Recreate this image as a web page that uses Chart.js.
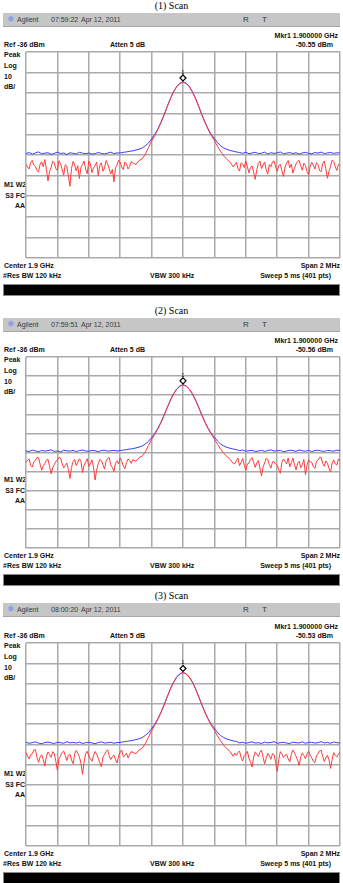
<!DOCTYPE html>
<html>
<head>
<meta charset="utf-8">
<script src="https://cdn.jsdelivr.net/npm/chart.js@4.4.1/dist/chart.umd.min.js"></script>
<style>
  body { margin: 0; background: #fff; width: 343px; height: 883px; overflow: hidden; position: relative;
         font-family: "Liberation Sans", Arial, sans-serif; }
  .t { position: absolute; white-space: nowrap; line-height: 10px; height: 10px; font-size: 7px;
       font-weight: bold; color: #111; }
  .title { position: absolute; left: 0; width: 343px; text-align: center; line-height: 12px;
           font: 10px "Liberation Serif", "Times New Roman", serif; color: #000; }
  .hdr { position: absolute; left: 3px; width: 337px; height: 13px; background: #c6c6c6;
         border-bottom: 1px solid #a6a6a6; }
  .hdr span { position: absolute; top: 0; line-height: 13px; font-size: 7px; color: #3a3a3a; }
  .bar { position: absolute; left: 3px; width: 335px; background: #000; border: 1px solid #8a8a8a; }
  .plot { position: absolute; left: 25px; width: 316px; }
</style>
</head>
<body>
<script>
// sweep has 401 pts (index 0..400); sample positions used below
function steps(a, b, s) { const out = []; for (let v = a; v <= b; v += s) out.push(v); return out; }
const blueIdx = steps(0, 400, 4);
const redIdx = [...steps(0, 134, 2), ...steps(136, 264, 4), ...steps(266, 400, 2)];

const freqTicks = [0, 40, 80, 120, 160, 200, 240, 280, 320, 360, 400];
const levelTicks = [-136, -126, -116, -106, -96, -86, -76, -66, -56, -46, -36];

const scanTitles = ['(1) Scan', '(2) Scan', '(3) Scan'];
const scanTimes = ['07:59:22', '07:59:51', '08:00:20'];
const markerLevels = [-50.55, -50.56, -50.53];

// peak region, idx 120..268 step 4 (blue) and 136..264 step 4 (red)
const bluePeak = [-85.0, -84.7, -84.5, -84.2, -84.0, -83.6, -83.2, -82.6, -81.5, -80.2,
  -78.2, -76.0, -73.3, -70.0, -66.3, -62.3, -58.5, -55.2, -52.7, -51.1,
  -50.5, -51.1, -52.7, -55.2, -58.5, -62.3, -66.3, -70.0, -73.3, -76.0,
  -78.0, -80.0, -81.6, -82.6, -83.3, -83.8, -84.2, -84.5];
const redPeak = [-89.8, -90.6, -88.7, -87.9, -85.6, -82.4, -79.2, -76.6,
  -73.6, -70.3, -66.6, -62.5, -58.7, -55.4, -52.9, -51.3, -50.6, -51.3, -52.9, -55.4, -58.7, -62.5, -66.6, -70.3, -73.6,
  -76.5, -79.0, -81.8, -84.3, -86.5, -88.1, -89.5, -91.8];

// scan 1
const blueLeft1 = [-85.3, -84.8, -85.6, -85.0, -84.5, -85.4, -85.1, -84.9, -85.7, -85.2, -84.6, -85.3, -85.0, -85.8, -84.9,
  -85.2, -85.5, -84.7, -85.1, -85.4, -85.0, -85.6, -85.3, -84.8, -85.2, -85.5, -85.1, -84.6, -85.3, -85.0];
const blueRight1 = [-84.8, -85.2, -84.6, -85.4, -85.0, -84.7, -85.3, -85.1, -84.6, -85.5, -84.9, -85.2, -85.0, -84.5, -85.4,
  -85.1, -84.8, -85.3, -84.9, -85.6, -85.0, -84.7, -85.2, -85.4, -84.8, -85.1, -84.6, -85.3, -85.0, -84.8, -85.2, -84.9, -85.1];
const redLeft1 = [-90.5, -91.8, -92.8, -89.7, -88.6, -90.9, -91.5, -93.6, -94.2, -90.4, -89.3, -91.7, -88.2, -93.0, -98.6,
  -94.1, -92.1, -89.0, -89.7, -92.6, -93.5, -88.8, -90.2, -92.9, -95.8, -90.7, -91.4, -96.3, -101.2, -92.5,
  -89.1, -90.8, -93.7, -91.2, -97.4, -92.0, -90.6, -88.9, -92.9, -95.1, -88.9, -90.3, -94.6, -92.2, -91.2,
  -89.4, -96.1, -91.0, -89.8, -93.9, -92.4, -88.7, -90.3, -92.7, -95.2, -93.0, -99.1, -92.3, -90.8, -88.5,
  -89.6, -91.9, -93.1, -89.4, -90.2, -92.8, -91.5, -89.2];
const redRight1 = [-90.7, -89.6, -92.4, -93.8, -89.8, -90.4, -92.1, -88.9, -91.6, -94.7, -92.0, -91.3, -94.4, -97.8, -93.2,
  -90.1, -89.0, -92.6, -90.9, -89.4, -93.1, -95.3, -90.6, -91.7, -89.3, -88.8, -91.9, -93.9, -91.1, -90.5,
  -93.7, -96.4, -91.8, -89.9, -88.7, -92.2, -90.4, -94.8, -92.5, -90.3, -89.1, -88.6, -91.3, -93.4, -90.0,
  -91.1, -94.0, -95.7, -91.4, -89.5, -90.9, -92.8, -89.7, -90.7, -93.6, -94.1, -90.2, -88.9, -92.7, -97.3,
  -93.9, -91.6, -88.4, -89.2, -91.8, -93.5, -90.6, -90.8];

// scan 2
const blueLeft2 = [-85.1, -85.5, -84.7, -85.2, -85.6, -84.9, -85.3, -85.0, -84.6, -85.4, -85.2, -85.7, -84.8, -85.1, -85.3,
  -84.9, -85.5, -85.0, -84.7, -85.2, -85.4, -84.9, -85.1, -85.6, -85.0, -84.8, -85.3, -85.1, -84.9, -85.2];
const blueRight2 = [-85.0, -84.7, -85.3, -85.1, -84.8, -85.5, -85.2, -84.9, -85.4, -85.0, -84.6, -85.3, -85.1, -84.9, -85.6,
  -85.2, -84.8, -85.0, -85.4, -84.7, -85.1, -85.3, -84.9, -85.5, -85.0, -84.8, -85.2, -85.4, -84.9, -85.1, -85.3, -84.8, -85.0];
const redLeft2 = [-91.2, -90.1, -89.4, -92.7, -93.6, -90.8, -90.1, -88.6, -88.7, -92.2, -95.3, -93.0, -91.8, -89.9, -89.5,
  -93.4, -97.2, -94.0, -92.4, -90.6, -90.0, -88.5, -88.9, -91.7, -94.1, -92.9, -91.5, -95.0, -99.6, -93.8,
  -90.7, -89.6, -92.8, -91.1, -89.3, -90.5, -96.5, -92.6, -91.0, -89.2, -93.3, -91.9, -89.8, -93.7, -100.4,
  -95.2, -91.9, -89.7, -90.2, -92.3, -94.7, -90.5, -89.1, -88.6, -92.5, -93.9, -95.9, -91.6, -90.4, -92.0,
  -88.8, -90.7, -93.0, -94.5, -91.3, -89.4, -90.1, -91.7];
const redRight2 = [-91.9, -90.3, -88.9, -92.9, -91.2, -89.1, -92.6, -95.4, -92.0, -91.6, -89.5, -88.7, -91.3, -93.8, -91.5,
  -90.2, -94.1, -98.3, -93.6, -91.4, -89.0, -89.6, -92.4, -94.2, -90.9, -90.8, -92.1, -92.7, -95.0, -96.9,
  -91.2, -89.4, -90.6, -91.9, -88.8, -93.5, -91.4, -88.9, -92.3, -95.1, -91.7, -90.6, -93.9, -92.3, -89.6,
  -97.6, -92.8, -89.8, -91.0, -91.1, -93.4, -94.4, -90.7, -90.0, -88.5, -88.6, -91.8, -93.2, -90.4, -91.7,
  -94.3, -96.2, -91.5, -89.9, -92.0, -92.6, -89.3, -90.4];

// scan 3
const blueLeft3 = [-84.9, -85.4, -85.1, -84.7, -85.3, -85.6, -85.0, -84.8, -85.2, -85.5, -84.9, -85.1, -85.4, -84.6, -85.2,
  -85.0, -85.3, -84.8, -85.5, -85.1, -84.9, -85.2, -85.6, -85.0, -84.7, -85.3, -85.1, -84.9, -85.4, -85.0];
const blueRight3 = [-85.2, -84.9, -85.4, -85.0, -84.7, -85.3, -85.1, -85.5, -84.8, -85.2, -85.0, -84.6, -85.4, -85.1, -84.9,
  -85.3, -85.5, -84.8, -85.1, -85.2, -84.7, -85.4, -85.0, -84.9, -85.3, -85.1, -84.6, -85.2, -85.0, -85.4, -84.8, -85.1, -85.3];
const redLeft3 = [-89.9, -91.7, -93.1, -91.0, -90.6, -88.7, -88.5, -92.4, -94.8, -92.1, -91.1, -93.5, -96.7, -91.8, -89.7,
  -90.9, -92.3, -89.5, -90.4, -94.2, -98.8, -93.0, -91.6, -89.9, -89.2, -91.4, -93.9, -91.2, -90.8, -93.6,
  -95.5, -90.7, -88.9, -90.3, -92.0, -95.3, -100.7, -94.6, -90.5, -89.3, -91.8, -93.0, -94.3, -91.5, -89.4,
  -90.8, -92.7, -94.9, -97.0, -92.4, -90.9, -89.6, -88.6, -91.5, -93.4, -92.0, -91.2, -93.3, -95.1, -91.6,
  -89.8, -88.7, -92.1, -91.4, -90.3, -92.6, -91.0, -89.5];
const redRight3 = [-90.2, -91.4, -90.0, -89.2, -92.5, -94.1, -91.3, -90.7, -89.4, -92.8, -94.7, -97.1, -92.2, -89.6, -90.8,
  -91.9, -89.9, -88.8, -92.3, -95.6, -92.7, -90.4, -91.6, -93.3, -90.5, -91.0, -94.8, -99.2, -93.5, -89.5,
  -90.6, -92.4, -91.3, -90.9, -93.1, -94.6, -90.8, -88.7, -90.1, -91.8, -93.7, -96.3, -92.1, -90.1, -91.5,
  -93.0, -90.6, -89.3, -91.2, -92.6, -94.3, -95.0, -91.7, -90.5, -89.1, -88.9, -91.9, -94.4, -92.5, -91.3,
  -93.6, -97.8, -93.2, -90.0, -91.4, -92.2, -90.7, -89.7];

const blueTraces = [
  [...blueLeft1, ...bluePeak, ...blueRight1],
  [...blueLeft2, ...bluePeak, ...blueRight2],
  [...blueLeft3, ...bluePeak, ...blueRight3]
];
const redTraces = [
  [...redLeft1, ...redPeak, ...redRight1],
  [...redLeft2, ...redPeak, ...redRight2],
  [...redLeft3, ...redPeak, ...redRight3]
];

// where each screenshot sits on the page
const panels = [
  { hdrTop: 13, gridTop: 52, gridBottom: 258 },
  { hdrTop: 318, gridTop: 357, gridBottom: 548 },
  { hdrTop: 603, gridTop: 643, gridBottom: 846 }
];

function addText(txt, cls, style) {
  const d = document.createElement('div');
  d.className = cls;
  d.textContent = txt;
  Object.assign(d.style, style);
  document.body.appendChild(d);
  return d;
}

const markerPlugin = {
  id: 'mkr',
  afterDatasetsDraw(chart, args, opts) {
    const x = chart.scales.x.getPixelForValue(opts.idx);
    const y = chart.scales.y.getPixelForValue(opts.level) - 4;
    const ctx = chart.ctx;
    ctx.save();
    ctx.beginPath();
    ctx.moveTo(x, y - 3);
    ctx.lineTo(x + 3, y);
    ctx.lineTo(x, y + 3);
    ctx.lineTo(x - 3, y);
    ctx.closePath();
    ctx.fillStyle = '#fff';
    ctx.fill();
    ctx.strokeStyle = '#000';
    ctx.lineWidth = 1.2;
    ctx.stroke();
    ctx.font = '5px "Liberation Sans"';
    ctx.fillStyle = '#000';
    ctx.textAlign = 'center';
    ctx.fillText('1', x, y - 4);
    ctx.restore();
  }
};

panels.forEach((p, i) => {
  addText(scanTitles[i], 'title', { top: (p.hdrTop - 13) + 'px' });

  const hdr = document.createElement('div');
  hdr.className = 'hdr';
  hdr.style.top = p.hdrTop + 'px';
  hdr.innerHTML = '<span style="left:4px;color:#8fa0e8;font-size:9px">\u2739</span>' +
    '<span style="left:14px">Agilent</span>' +
    '<span style="left:48px">' + scanTimes[i] + '</span>' +
    '<span style="left:78px">Apr 12, 2011</span>' +
    '<span style="left:240px;font-size:8px">R</span>' +
    '<span style="left:259px;font-size:8px">T</span>';
  document.body.appendChild(hdr);

  const g0 = p.gridTop, g1 = p.gridBottom, h = g1 - g0;
  addText('Mkr1  1.900000 GHz', 't', { top: (g0 - 21) + 'px', right: '5px' });
  addText('Ref -36 dBm', 't', { top: (g0 - 12) + 'px', left: '4px' });
  addText('Atten 5 dB', 't', { top: (g0 - 12) + 'px', left: '110px' });
  addText(markerLevels[i].toFixed(2) + ' dBm', 't', { top: (g0 - 12) + 'px', right: '10px' });
  addText('Peak', 't', { top: (g0 - 2) + 'px', left: '4px' });
  addText('Log', 't', { top: (g0 + 9) + 'px', left: '4px' });
  addText('10', 't', { top: (g0 + 20) + 'px', left: '4px' });
  addText('dB/', 't', { top: (g0 + 30) + 'px', left: '4px' });
  const mTop = g0 + Math.round(0.645 * h) - 5;
  addText('M1 W2', 't', { top: mTop + 'px', left: '4px' });
  addText('S3 FC', 't', { top: (mTop + 11) + 'px', right: '318px' });
  addText('AA', 't', { top: (mTop + 21) + 'px', right: '318px' });
  addText('Center 1.9 GHz', 't', { top: (g1 + 3) + 'px', left: '4px' });
  addText('Span 2 MHz', 't', { top: (g1 + 3) + 'px', right: '3px' });
  addText('#Res BW 120 kHz', 't', { top: (g1 + 13) + 'px', left: '3px' });
  addText('VBW 300 kHz', 't', { top: (g1 + 13) + 'px', left: '150px' });
  addText('Sweep 5 ms (401 pts)', 't', { top: (g1 + 13) + 'px', right: '12px' });

  const bar = document.createElement('div');
  bar.className = 'bar';
  bar.style.top = (g1 + 26) + 'px';
  bar.style.height = '10px';
  document.body.appendChild(bar);

  const box = document.createElement('div');
  box.className = 'plot';
  box.style.top = (g0 - 1) + 'px';
  box.style.height = (h + 2) + 'px';
  const cv = document.createElement('canvas');
  box.appendChild(cv);
  document.body.appendChild(box);

  new Chart(cv, {
    type: 'line',
    data: {
      datasets: [
        {
          label: 'Trace 2',
          data: redIdx.map((x, k) => ({ x, y: redTraces[i][k] })),
          borderColor: '#ff3b3b',
          borderWidth: 1,
          pointRadius: 0,
          tension: 0,
          order: 0
        },
        {
          label: 'Trace 1',
          data: blueIdx.map((x, k) => ({ x, y: blueTraces[i][k] })),
          borderColor: '#3a3aff',
          borderWidth: 1,
          pointRadius: 0,
          tension: 0,
          order: 1
        }
      ]
    },
    options: {
      responsive: true,
      maintainAspectRatio: false,
      animation: false,
      devicePixelRatio: 1,
      layout: { padding: 1 },
      plugins: {
        legend: { display: false },
        tooltip: { enabled: false },
        mkr: { idx: 200, level: markerLevels[i] }
      },
      scales: {
        x: {
          type: 'linear', min: 0, max: 400,
          afterBuildTicks: s => { s.ticks = freqTicks.map(v => ({ value: v })); },
          ticks: { display: false },
          grid: { color: '#aaaaaa', lineWidth: 1.5, drawTicks: false },
          border: { display: false }
        },
        y: {
          type: 'linear', min: -136, max: -36,
          afterBuildTicks: s => { s.ticks = levelTicks.map(v => ({ value: v })); },
          ticks: { display: false },
          grid: { color: '#aaaaaa', lineWidth: 1.5, drawTicks: false },
          border: { display: false }
        }
      }
    },
    plugins: [markerPlugin]
  });
});
</script>
</body>
</html>
